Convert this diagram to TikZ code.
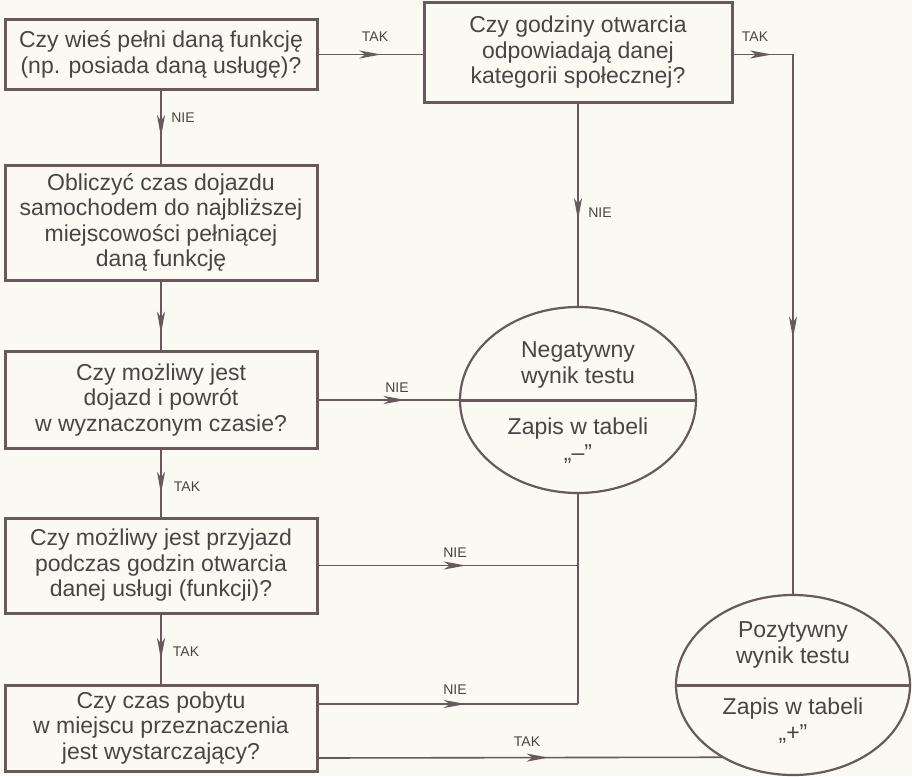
\documentclass[tikz,border=0pt]{standalone}
\usepackage{fontspec}
\setmainfont{Liberation Sans}
\usetikzlibrary{shapes.geometric,arrows.meta,decorations.markings}
\definecolor{ink}{HTML}{4B4447}
\definecolor{lin}{HTML}{6A585F}
\definecolor{bg}{HTML}{FAF9F2}
\begin{document}
\begin{tikzpicture}[x=1pt,y=-1pt,
  box/.style={draw=lin, line width=3pt, rectangle, inner sep=0pt, outer sep=0pt,
    minimum width=312pt, align=center, text=ink, font=\fontsize{23}{25.5}\selectfont},
  conn/.style={draw=lin, color=lin, line width=1.6pt},
  arr/.style={postaction={decorate, decoration={markings,
    mark=at position #1 with {\arrow{Stealth[length=22pt,width=8pt,inset=6pt]}}}}},
  lab/.style={text=ink, font=\fontsize{14}{14}\selectfont, inner sep=0pt},
  oval/.style={ellipse, draw=lin, line width=2.2pt, inner sep=0pt, outer sep=0pt},
  otext/.style={text=ink, align=center, inner sep=0pt, font=\fontsize{23}{26}\selectfont}]
\fill[bg] (0,0) rectangle (912,776);
\useasboundingbox (0,0) rectangle (912,776);

% boxes
\node[box, minimum height=69pt] (b1) at (161,54.5) {Czy wieś pełni daną funkcję\\(np. posiada daną usługę)?};
\node[box, minimum width=308pt, minimum height=99pt] (b2) at (578,52.5) {Czy godziny otwarcia\\odpowiadają danej\\kategorii społecznej?};
\node[box, minimum height=115pt] (b3) at (161,222.5) {Obliczyć czas dojazdu\\samochodem do najbliższej\\miejscowości pełniącej\\daną funkcję};
\node[box, minimum height=97pt] (b4) at (161,400) {Czy możliwy jest\\dojazd i powrót\\w wyznaczonym czasie?};
\node[box, minimum height=95pt] (b5) at (161,565.5) {Czy możliwy jest przyjazd\\podczas godzin otwarcia\\danej usługi (funkcji)?};
\node[box, minimum height=86pt] (b6) at (161,728) {Czy czas pobytu\\w miejscu przeznaczenia\\jest wystarczający?};

% ovals
\node[oval, minimum width=236pt, minimum height=186pt] (neg) at (578,400) {};
\draw[lin, line width=3pt] (neg.west) -- (neg.east);
\node[otext] (negt) at (578,365) {Negatywny\\wynik testu};
\node[otext] (negb) at (578,441) {Zapis w tabeli\\„–”};

\node[oval, minimum width=234pt, minimum height=180pt] (pos) at (793,685) {};
\draw[lin, line width=3pt] (pos.west) -- (pos.east);
\node[otext] (post) at (793,645) {Pozytywny\\wynik testu};
\node[otext] (posb) at (793,721) {Zapis w tabeli\\„+”};

% helper coordinates
\coordinate (n6) at (0,704);
\coordinate (t6) at (0,758);

% connectors
\draw[conn, arr=0.6] (b1.east) -- (b1.east -| b2.west);
\draw[conn, arr=40pt, arr=345pt] (b2.east |- b1.east) -| (pos.north);
\draw[conn, arr=118pt] (b2.south) -- (neg.north);
\draw[conn, arr=48pt] (b1.south) -- (b3.north);
\draw[conn, arr=0.75] (b3.south) -- (b4.north);
\draw[conn, arr=0.62] (b4.east) -- (neg.west);
\draw[conn, arr=0.65] (b4.south) -- (b5.north);
\draw[conn, arr=0.57] (b5.east) -- (b5.east -| neg.south);
\draw[conn] (neg.south) -- (n6 -| neg.south);
\draw[conn, arr=0.57] (b6.east |- n6) -- (n6 -| neg.south);
\draw[conn, arr=0.65] (b5.south) -- (b6.north);
\draw[conn, arr=0.57] (b6.east |- t6) -- (pos.226);

% labels
\node[lab] (l1) at (375,37) {TAK};
\node[lab] (l2) at (755,37) {TAK};
\node[lab] (l3) at (183,118) {NIE};
\node[lab] (l4) at (600,213) {NIE};
\node[lab] (l5) at (397,388) {NIE};
\node[lab] (l6) at (187,487) {TAK};
\node[lab] (l7) at (455,553) {NIE};
\node[lab] (l8) at (186,652) {TAK};
\node[lab] (l9) at (455,690) {NIE};
\node[lab] (l10) at (527,742) {TAK};
\end{tikzpicture}
\end{document}
